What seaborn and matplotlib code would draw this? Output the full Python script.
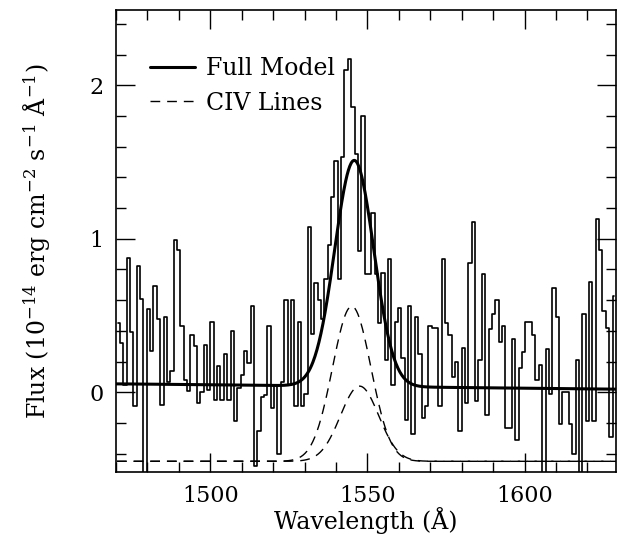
import numpy as np
import pandas as pd
import matplotlib
matplotlib.use("Agg")
import matplotlib.pyplot as plt
from matplotlib.ticker import MultipleLocator
import seaborn as sns

# --- spectrum: flux per bin (10^-14 erg cm^-2 s^-1 A^-1) ---
wave_start = 1470.2
bin_width = 1.066
flux = [
    0.45, 0.32, 0.045, 0.875, 0.39, -0.09, 0.82, 0.61, -0.6, 0.54,
    0.27, 0.69, 0.48, -0.08, 0.49, 0.07, 0.14, 0.99, 0.93, 0.43,
    0.08, 0.01, 0.37, 0.30, -0.07, 0.0, 0.31, 0.015, 0.46, -0.05,
    0.17, -0.05, 0.25, -0.05, 0.40, -0.19, 0.03, 0.11, 0.27, 0.19,
    0.56, -0.48, -0.25, -0.03, -0.02, 0.43, -0.10, 0.05, -0.40, 0.065,
    0.60, 0.05, 0.60, -0.09, 0.46, -0.09, -0.01, 1.08, 0.38, 0.71,
    0.60, 0.48, 0.74, 0.96, 1.27, 1.51, 0.74, 1.53, 2.10, 2.17,
    1.86, 1.55, 0.92, 1.80, 0.77, 0.77, 1.17, 0.77, 0.45, 0.78,
    0.21, 0.87, 0.05, 0.46, 0.55, 0.22, -0.18, 0.56, -0.27, 0.49,
    0.25, -0.17, -0.09, 0.43, 0.42, 0.42, -0.09, 0.87, 0.45, 0.37,
    0.10, 0.20, -0.25, 0.29, -0.07, 0.84, 1.11, -0.06, 0.21, 0.77,
    -0.15, 0.41, 0.51, 0.60, 0.33, 0.43, -0.23, -0.23, 0.35, -0.31,
    0.16, 0.26, 0.46, 0.46, 0.37, 0.08, 0.18, -0.55, 0.28, -0.01,
    0.68, 0.49, -0.21, 0.0, 0.0, -0.21, -0.40, 0.21, -0.55, 0.51,
    -0.19, 0.72, -0.19, 1.13, 0.93, 0.53, 0.42, -0.29, 0.63,
]

# --- model fit parameters ---
cont_left, cont_right = 0.055, 0.02      # continuum level at the two ends
civ_centers = [1545.0, 1547.5]          # the two CIV components
civ_amps = [1.01, 0.49]
civ_sigma = 6.1
civ_offset = -0.45                      # dashed components are drawn shifted down

n = len(flux)
wave = wave_start + bin_width * (np.arange(n) + 0.5)
spec = pd.DataFrame({"wave": wave, "flux": flux})

grid = np.linspace(1465, 1635, 800)
cont = np.interp(grid, [1470, 1629], [cont_left, cont_right])
comps = [a * np.exp(-0.5 * ((grid - c) / civ_sigma) ** 2) for c, a in zip(civ_centers, civ_amps)]
full = cont + comps[0] + comps[1]

sns.set_style("ticks")
plt.rcParams["font.family"] = ["DejaVu Serif"]
plt.rcParams["mathtext.fontset"] = "dejavuserif"
plt.rcParams["text.color"] = "black"
plt.rcParams["axes.labelcolor"] = "black"

fig = plt.figure(figsize=(6.17, 5.34), dpi=100)
ax = fig.add_axes([0.188, 0.116, 0.81, 0.865])

sns.lineplot(data=spec, x="wave", y="flux", drawstyle="steps-mid", color="black",
             linewidth=1.2, ax=ax, label="_nolegend_")
sns.lineplot(x=grid, y=full, color="black", linewidth=2.2, ax=ax, label="Full Model")
sns.lineplot(x=grid, y=comps[0] + civ_offset, color="black", linewidth=1.0,
             linestyle=(0, (7, 5)), ax=ax, label="CIV Lines")
sns.lineplot(x=grid, y=comps[1] + civ_offset, color="black", linewidth=1.0,
             linestyle=(0, (7, 5)), ax=ax, label="_nolegend_")

ax.set_xlim(1470, 1629)
ax.set_ylim(-0.52, 2.49)
ax.xaxis.set_major_locator(MultipleLocator(50))
ax.xaxis.set_minor_locator(MultipleLocator(10))
ax.yaxis.set_major_locator(MultipleLocator(1))
ax.yaxis.set_minor_locator(MultipleLocator(0.2))
ax.tick_params(which="both", direction="in", top=True, right=True, colors="black")
ax.tick_params(which="major", length=14, width=1, labelsize=16, pad=9)
ax.tick_params(which="minor", length=7, width=1)
for s in ax.spines.values():
    s.set_linewidth(1.2)
    s.set_color("black")

ax.set_xlabel("Wavelength (Å)", fontsize=17, labelpad=0)
ax.set_ylabel(r"Flux (10$^{-14}$ erg cm$^{-2}$ s$^{-1}$ Å$^{-1}$)", fontsize=17, labelpad=26)

leg = ax.legend(loc="upper left", bbox_to_anchor=(0.026, 0.945), frameon=False, fontsize=17,
                handlelength=1.9, handletextpad=0.45, labelspacing=0.5)
for t in leg.get_texts():
    t.set_color("black")

fig.savefig("out.png", dpi=100)
